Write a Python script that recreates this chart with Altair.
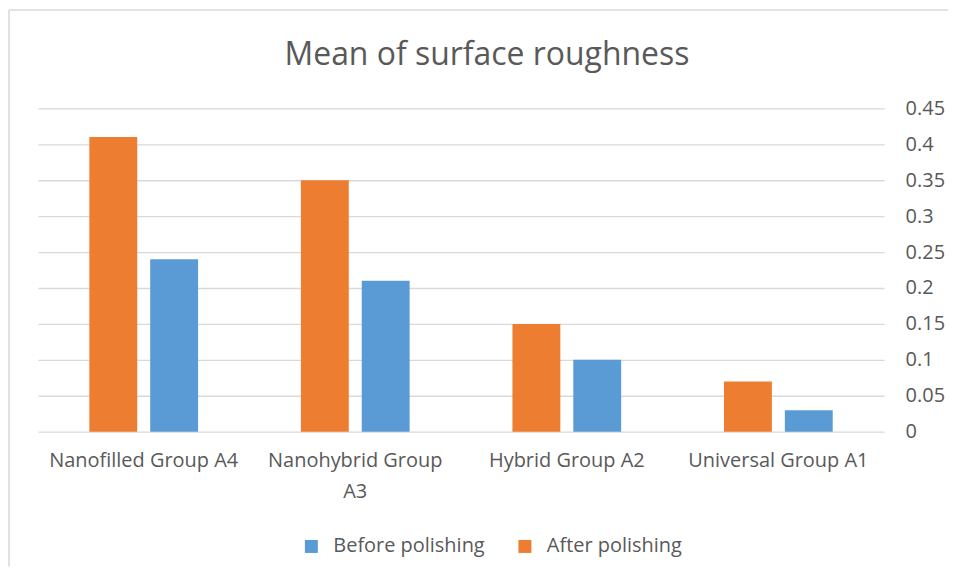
import altair as alt
import pandas as pd

categories = ["Nanofilled Group A4", "Nanohybrid Group A3", "Hybrid Group A2", "Universal Group A1"]
after_polishing = [0.41, 0.35, 0.15, 0.07]
before_polishing = [0.24, 0.21, 0.10, 0.03]
series = ["Before polishing", "After polishing"]
colors = ["#5B9BD5", "#ED7D31"]
y_ticks = [0, 0.05, 0.1, 0.15, 0.2, 0.25, 0.3, 0.35, 0.4, 0.45]

rows = []
for c, a, b in zip(categories, after_polishing, before_polishing):
    rows.append({"group": c, "series": "After polishing", "value": a})
    rows.append({"group": c, "series": "Before polishing", "value": b})
df = pd.DataFrame(rows)

FONT = "Open Sans"
TXT = "#595959"
FS = 20
W, H = 848, 324

bars = alt.Chart(df).mark_bar().encode(
    x=alt.X("group:N", sort=categories,
            scale=alt.Scale(paddingInner=0.486, paddingOuter=0.243),
            axis=alt.Axis(title=None, labelAngle=0, ticks=False, domain=False,
                          labelFontSize=FS, labelColor=TXT, labelFont=FONT,
                          labelPadding=19, labelLineHeight=31, labelLimit=300,
                          labelExpr="datum.label == 'Nanohybrid Group A3' ? ['Nanohybrid Group', 'A3'] : datum.label")),
    xOffset=alt.XOffset("series:N", sort=["After polishing", "Before polishing"],
                        scale=alt.Scale(paddingInner=0.213, paddingOuter=0)),
    y=alt.Y("value:Q", scale=alt.Scale(domain=[0, 0.45], nice=False),
            axis=alt.Axis(title=None, orient="right", values=y_ticks, format="~g",
                          ticks=False, domain=False, labelPadding=21,
                          labelFontSize=FS, labelColor=TXT, labelFont=FONT,
                          grid=True, gridColor="#D9D9D9", gridWidth=1.3)),
    color=alt.Color("series:N", scale=alt.Scale(domain=series, range=colors),
                    legend=alt.Legend(title=None, orient="none", direction="horizontal",
                                      legendX=264, legendY=429,
                                      symbolType="square", symbolSize=169,
                                      symbolStrokeWidth=0, symbolOpacity=1,
                                      labelFontSize=FS, labelColor=TXT, labelFont=FONT,
                                      labelOffset=12, columnPadding=30)),
)

title = alt.Chart(pd.DataFrame({"t": ["Mean of surface roughness"]})).mark_text(
    fontSize=32, font=FONT, color=TXT, baseline="alphabetic", align="center"
).encode(x=alt.value(450), y=alt.value(-43), text="t:N")

frame = pd.DataFrame({"b": [1]})
left_edge = alt.Chart(frame).mark_rule(color="#D9D9D9", strokeWidth=1.5).encode(
    x=alt.value(-29), y=alt.value(-98.5), y2=alt.value(H + 135))
top_edge = alt.Chart(frame).mark_rule(color="#D9D9D9", strokeWidth=1.5).encode(
    x=alt.value(-29), x2=alt.value(W + 64), y=alt.value(-98.5))

chart = alt.layer(left_edge, top_edge, bars, title).properties(
    width=W, height=H,
    autosize=alt.AutoSizeParams(type="none"),
    padding={"left": 30, "top": 100, "right": 64, "bottom": 135},
).configure(background="white").configure_view(stroke=None)

chart.save("out.html", embed_options={"renderer": "svg", "actions": False})
